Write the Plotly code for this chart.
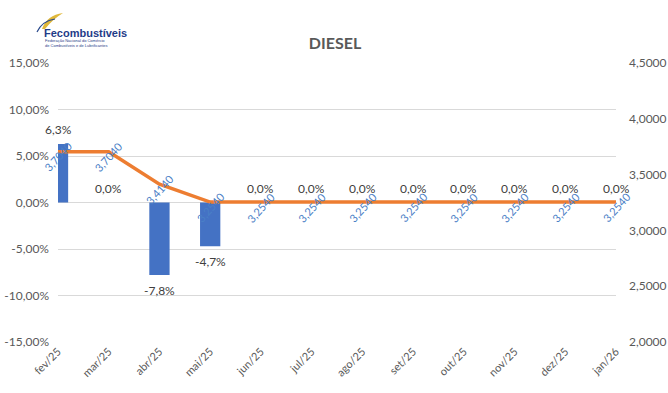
import plotly.graph_objects as go

# ---------------- data ----------------
months = ["fev/25", "mar/25", "abr/25", "mai/25", "jun/25", "jul/25",
          "ago/25", "set/25", "out/25", "nov/25", "dez/25", "jan/26"]
pct_change = [6.3, 0.0, -7.8, -4.7, 0.0, 0.0, 0.0, 0.0, 0.0, 0.0, 0.0, 0.0]
price = [3.7040, 3.7040, 3.4140, 3.2540, 3.2540, 3.2540,
         3.2540, 3.2540, 3.2540, 3.2540, 3.2540, 3.2540]

left_ticks = [-15, -10, -5, 0, 5, 10, 15]
left_tick_labels = ["-15,00%", "-10,00%", "-5,00%", "0,00%", "5,00%", "10,00%", "15,00%"]
right_ticks = [2.0, 2.5, 3.0, 3.5, 4.0, 4.5]
right_tick_labels = ["2,0000", "2,5000", "3,0000", "3,5000", "4,0000", "4,5000"]

title_text = "DIESEL"

# ---------------- figure ----------------
FONT = "Lato, Calibri, Carlito, 'Open Sans', sans-serif"
xs = list(range(len(months)))

def pct_label(v):
    return f"{v:.1f}%".replace(".", ",")

def price_label(v):
    return f"{v:.4f}".replace(".", ",")

fig = go.Figure()

fig.add_trace(go.Bar(
    x=xs, y=pct_change, width=0.4, marker_color="#4472C4",
    marker_line_width=0, yaxis="y", hoverinfo="skip"))

fig.add_trace(go.Scatter(
    x=xs, y=price, mode="lines", yaxis="y2",
    line=dict(color="#ED7D31", width=3.5), hoverinfo="skip"))

for x, v in zip(xs, price):
    fig.add_annotation(
        x=x, y=v, xref="x", yref="y2", text=price_label(v),
        showarrow=False, textangle=-48, yshift=-5,
        font=dict(family=FONT, size=11, color="#4A80C6"))

for x, v in zip(xs, pct_change):
    fig.add_annotation(
        x=x, y=v, xref="x", yref="y", text=pct_label(v),
        showarrow=False,
        yanchor="bottom" if v >= 0 else "top",
        yshift=5 if v >= 0 else -6,
        font=dict(family=FONT, size=12, color="#404040"))

# ---------------- layout geometry ----------------
L, T, W, H = 58, 63, 558, 279

def px(x):
    return (x - L) / W
def py(y):
    return (T + H - y) / H

# ---------------- logo (decorative) ----------------
fig.add_shape(type="path", xref="paper", yref="paper",
              path=(f"M {px(42)},{py(29)} Q {px(47)},{py(15)} {px(63)},{py(13)} "
                    f"Q {px(53)},{py(19)} {px(45)},{py(29)} Z"),
              fillcolor="#E0B83A", line=dict(width=0), layer="above")
fig.add_shape(type="path", xref="paper", yref="paper",
              path=(f"M {px(37)},{py(32)} Q {px(42)},{py(21)} {px(55)},{py(19)}"),
              line=dict(color="#2A4A8C", width=1.2), layer="above")
fig.add_annotation(xref="paper", yref="paper", x=px(42), y=py(33),
                   xanchor="left", yanchor="middle", showarrow=False,
                   text="<b>Fecombustíveis</b>",
                   font=dict(family="Liberation Sans, Arial", size=11, color="#1F3C88"))
fig.add_annotation(xref="paper", yref="paper", x=px(43), y=py(43),
                   xanchor="left", yanchor="middle", showarrow=False,
                   text="Federação Nacional do Comércio<br>de Combustíveis e de Lubrificantes",
                   align="left",
                   font=dict(family="Liberation Sans, Arial", size=4, color="#1F3C88"))

fig.update_layout(
    width=668, height=393,
    margin=dict(l=L, r=668 - L - W, t=T, b=393 - T - H, autoexpand=False),
    paper_bgcolor="white", plot_bgcolor="white",
    showlegend=False,
    title=dict(text=f"<b>{title_text}</b>", x=335 / 668, xanchor="center",
               y=1 - 43 / 393, yanchor="middle",
               font=dict(family=FONT, size=16, color="#595959")),
    font=dict(family=FONT, color="#595959"),
    xaxis=dict(range=[0, len(months) - 1], tickmode="array", tickvals=xs,
               ticktext=months, tickangle=-45, showgrid=False, zeroline=False,
               showline=False, automargin=False,
               tickfont=dict(size=11, color="#595959")),
    yaxis=dict(range=[-15, 15], tickmode="array", tickvals=left_ticks,
               ticktext=left_tick_labels, showgrid=True, gridcolor="#D9D9D9",
               gridwidth=1, zeroline=False, showline=False, automargin=False,
               ticklabelstandoff=8,
               tickfont=dict(size=12, color="#595959")),
    yaxis2=dict(range=[2.0, 4.5], overlaying="y", side="right", tickmode="array",
                tickvals=right_ticks, ticktext=right_tick_labels, showgrid=False,
                zeroline=False, showline=False, automargin=False,
                ticklabelstandoff=12,
                tickfont=dict(size=12, color="#595959")),
)

fig.write_html("out.html",
               config={"displayModeBar": False},
               post_script="document.body.style.margin='0';document.body.style.overflow='hidden';")
